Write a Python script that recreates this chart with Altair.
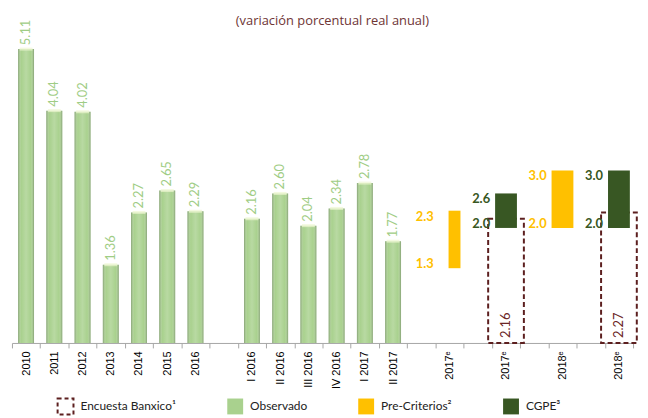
import altair as alt
import pandas as pd

# ---- data ----
x_cats = ["2010", "2011", "2012", "2013", "2014", "2015", "2016", " ",
          "I 2016", "II 2016", "III 2016", "IV 2016", "I 2017", "II 2017", "  ",
          "2017ᵉ Pre-Criterios", "   ", "2017ᵉ CGPE", "    ",
          "2018ᵉ Pre-Criterios", "     ", "2018ᵉ CGPE"]

obs_cats = ["2010", "2011", "2012", "2013", "2014", "2015", "2016",
            "I 2016", "II 2016", "III 2016", "IV 2016", "I 2017", "II 2017"]
obs_values = [5.11, 4.04, 4.02, 1.36, 2.27, 2.65, 2.29,
              2.16, 2.60, 2.04, 2.34, 2.78, 1.77]

fc_cats = ["2017ᵉ Pre-Criterios", "2017ᵉ CGPE", "2018ᵉ Pre-Criterios", "2018ᵉ CGPE"]
fc_series = ["Pre-Criterios²", "CGPE³", "Pre-Criterios²", "CGPE³"]
fc_low = [1.3, 2.0, 2.0, 2.0]
fc_high = [2.3, 2.6, 3.0, 3.0]

enc_cats = ["2017ᵉ CGPE", "2018ᵉ CGPE"]
enc_values = [2.16, 2.27]

series = ["Encuesta Banxico¹", "Observado", "Pre-Criterios²", "CGPE³"]

# ---- tables ----
obs_df = pd.DataFrame({"cat": obs_cats, "value": obs_values, "serie": "Observado"})
fc_df = pd.DataFrame({"cat": fc_cats, "lo": fc_low, "hi": fc_high, "serie": fc_series})
enc_df = pd.DataFrame({"cat": enc_cats, "value": enc_values, "serie": "Encuesta Banxico¹"})

MAROON = "#5c1f1f"
LGREEN = "#a9d18e"
YELLOW = "#ffc000"
DGREEN = "#385723"

label_expr = ("indexof(datum.label, 'Pre-') > 0 || indexof(datum.label, 'CGPE') > 0"
              " ? split(datum.label, ' ')[0] : datum.label")

x_enc = alt.X("cat:N",
              scale=alt.Scale(domain=x_cats, paddingInner=0, paddingOuter=0),
              axis=alt.Axis(title=None, labelAngle=270, labelAlign="right",
                            labelBaseline="middle", labelExpr=label_expr,
                            labelFont="Liberation Sans", labelFontSize=11,
                            labelColor="#000000", labelPadding=3,
                            domainColor="#a6a6a6", tickColor="#a6a6a6",
                            tickSize=5, tickBand="extent", grid=False))

yscale = alt.Scale(domain=[0, 5.4], nice=False)

legend = alt.Legend(
    orient="none", legendX=45, legendY=368, direction="horizontal",
    columns=4, title=None, symbolType="square", symbolSize=256,
    symbolDash=[4, 3], symbolStrokeWidth=2,
    labelFont="Lato", labelFontSize=12, labelColor="#222222", labelOffset=6,
    columnPadding=47, padding=0)

fill_enc = alt.Fill("serie:N", scale=alt.Scale(domain=series,
                    range=["transparent", LGREEN, YELLOW, DGREEN]), legend=legend)
stroke_enc = alt.Stroke("serie:N", scale=alt.Scale(domain=series,
                        range=[MAROON, "transparent", "transparent", "transparent"]),
                        legend=legend)

# Encuesta Banxico dashed boxes
enc_box = alt.Chart(enc_df).mark_bar(width=36, strokeWidth=2, strokeDash=[5, 3]).encode(
    x=x_enc, y=alt.Y("value:Q", scale=yscale, axis=None),
    fill=fill_enc, stroke=stroke_enc)

enc_text = alt.Chart(enc_df).transform_calculate(zero="0").mark_text(
    angle=270, align="left", baseline="middle", dx=5, font="Lato", fontSize=13,
    color="#6b2626").encode(
    x=x_enc, y=alt.Y("zero:Q", scale=yscale, axis=None),
    text=alt.Text("value:Q", format=".2f"))

# Observed bars
obs_bar = alt.Chart(obs_df).mark_bar(width=16).encode(
    x=x_enc, y=alt.Y("value:Q", scale=yscale, axis=None),
    fill=fill_enc, stroke=stroke_enc)

shade = alt.Gradient(gradient="linear", x1=0, x2=1, y1=0, y2=0, stops=[
    alt.GradientStop(offset=0, color="rgba(95,115,85,0.55)"),
    alt.GradientStop(offset=0.2, color="rgba(255,255,255,0.0)"),
    alt.GradientStop(offset=0.5, color="rgba(255,255,255,0.18)"),
    alt.GradientStop(offset=0.8, color="rgba(255,255,255,0.0)"),
    alt.GradientStop(offset=1, color="rgba(95,115,85,0.55)")])

obs_shade = alt.Chart(obs_df).mark_bar(width=16, fill=shade).encode(
    x=x_enc, y=alt.Y("value:Q", scale=yscale, axis=None))

obs_cap = alt.Chart(obs_df).mark_tick(size=13, thickness=3, color="#eef6d2").encode(
    x=x_enc, y=alt.Y("value:Q", scale=yscale, axis=None))

obs_text = alt.Chart(obs_df).mark_text(angle=270, align="left", baseline="middle",
                                       dx=4, font="Lato", fontSize=13,
                                       color="#9fcd85").encode(
    x=x_enc, y=alt.Y("value:Q", scale=yscale, axis=None),
    text=alt.Text("value:Q", format=".2f"))

# Forecast ranges
fc_base = alt.Chart(fc_df)
fc_narrow = fc_base.transform_filter(alt.datum.cat == "2017ᵉ Pre-Criterios").mark_bar(
    width=12, xOffset=5).encode(
    x=x_enc, y=alt.Y("lo:Q", scale=yscale, axis=None), y2="hi:Q",
    fill=fill_enc, stroke=stroke_enc)
fc_wide = fc_base.transform_filter(alt.datum.cat != "2017ᵉ Pre-Criterios").mark_bar(
    width=22).encode(
    x=x_enc, y=alt.Y("lo:Q", scale=yscale, axis=None), y2="hi:Q",
    fill=fill_enc, stroke=stroke_enc)

txt_color = alt.Color("serie:N", scale=alt.Scale(domain=["Pre-Criterios²", "CGPE³"],
                      range=[YELLOW, DGREEN]), legend=None)

fc_hi_text = fc_base.mark_text(align="right", baseline="middle", dx=-16, dy=6,
                               font="Lato", fontSize=13, fontWeight="bold").encode(
    x=x_enc, y=alt.Y("hi:Q", scale=yscale, axis=None),
    text=alt.Text("hi:Q", format=".1f"), color=txt_color)
fc_lo_text = fc_base.mark_text(align="right", baseline="middle", dx=-16, dy=-4,
                               font="Lato", fontSize=13, fontWeight="bold").encode(
    x=x_enc, y=alt.Y("lo:Q", scale=yscale, axis=None),
    text=alt.Text("lo:Q", format=".1f"), color=txt_color)

chart = alt.layer(
    enc_box, enc_text, obs_bar, obs_shade, obs_cap, obs_text,
    fc_narrow, fc_wide, fc_hi_text, fc_lo_text
).properties(
    width=626, height=313,
    autosize=alt.AutoSizeParams(type="none"),
    padding={"left": 4, "top": 23, "right": 7, "bottom": 72},
    title=alt.TitleParams("(variación porcentual real anual)", font="Open Sans",
                          fontSize=13, fontWeight="normal", color="#6e3535",
                          anchor="middle", frame="group", offset=-8, dx=10)
).configure_view(stroke=None)

chart.save("out.html", embed_options={"renderer": "svg", "actions": False})
